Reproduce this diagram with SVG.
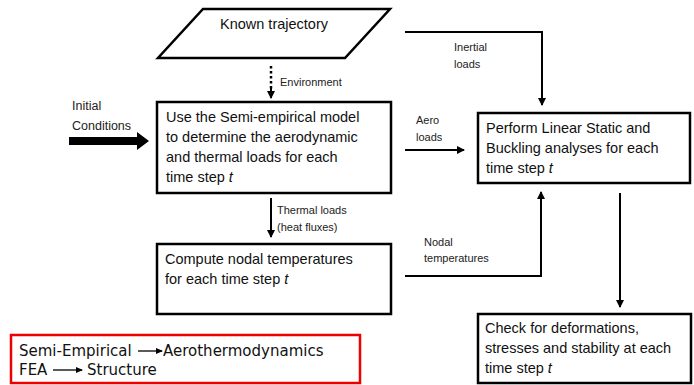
<svg xmlns="http://www.w3.org/2000/svg" width="694" height="385" viewBox="0 0 694 385">
<defs>
<style>
.box{fill:#fff;stroke:#000;stroke-width:2.5}
.t{font-family:"Liberation Sans",Arial,sans-serif;font-size:14.5px;fill:#111}
.s{font-family:"Liberation Sans",Arial,sans-serif;font-size:11px;fill:#222}
.leg{font-family:"DejaVu Sans",sans-serif;font-size:15px;fill:#111}
.c{fill:none;stroke:#000;stroke-width:2}
</style>
<marker id="ah" markerWidth="8" markerHeight="8" refX="7" refY="4" orient="auto" markerUnits="userSpaceOnUse">
<path d="M0,0 L8,4 L0,8 Z" fill="#000"/>
</marker>
<marker id="ah2" markerWidth="7" markerHeight="6" refX="6" refY="3" orient="auto" markerUnits="userSpaceOnUse">
<path d="M0,0 L7,3 L0,6 Z" fill="#000"/>
</marker>
</defs>
<rect width="694" height="385" fill="#fff"/>

<g id="connectors">
<path d="M271,66 L271,90" fill="none" stroke="#000" stroke-width="2.5" stroke-dasharray="2.5,2.5"/>
<path d="M271,88 L271,98" class="c" marker-end="url(#ah)"/>
<text class="s" x="280" y="86">Environment</text>
<rect x="69" y="137" width="69" height="8" fill="#000"/>
<path d="M137,132 L149,141 L137,150 Z" fill="#000"/>
<text class="s" x="72" y="110" style="font-size:12.5px">Initial</text>
<text class="s" x="72" y="130" style="font-size:12.5px">Conditions</text>
<path d="M405,32 L542,32 L542,105" class="c" marker-end="url(#ah)"/>
<text class="s" x="454" y="51">Inertial</text>
<text class="s" x="454" y="68">loads</text>
<path d="M405,150 L464,150" class="c" marker-end="url(#ah)"/>
<text class="s" x="416" y="124">Aero</text>
<text class="s" x="416" y="141">loads</text>
<path d="M271,198 L271,237" class="c" marker-end="url(#ah)"/>
<text class="s" x="277" y="214">Thermal loads</text>
<text class="s" x="277" y="231">(heat fluxes)</text>
<path d="M405,276 L541,276 L541,192" class="c" marker-end="url(#ah)"/>
<text class="s" x="424" y="246">Nodal</text>
<text class="s" x="424" y="262">temperatures</text>
<path d="M620,193 L620,307" class="c" marker-end="url(#ah)"/>
</g>

<g id="known-trajectory">
<polygon class="box" points="203,9 390,9 345,58 158,58"/>
<text class="t" x="274" y="29" text-anchor="middle">Known trajectory</text>
</g>

<g id="semi-empirical">
<rect class="box" x="157" y="102" width="234" height="91"/>
<text class="t" x="166" y="122">Use the Semi-empirical model</text>
<text class="t" x="166" y="142">to determine the aerodynamic</text>
<text class="t" x="166" y="162">and thermal loads for each</text>
<text class="t" x="166" y="182">time step <tspan font-style="italic">t</tspan></text>
</g>

<g id="compute-temps">
<rect class="box" x="157" y="244" width="234" height="70"/>
<text class="t" x="165" y="264">Compute nodal temperatures</text>
<text class="t" x="165" y="284">for each time step <tspan font-style="italic">t</tspan></text>
</g>

<g id="linear-static">
<rect class="box" x="478" y="113" width="212" height="70"/>
<text class="t" x="486" y="133">Perform Linear Static and</text>
<text class="t" x="486" y="153">Buckling analyses for each</text>
<text class="t" x="486" y="173">time step <tspan font-style="italic">t</tspan></text>
</g>

<g id="check">
<rect class="box" x="478" y="314" width="213" height="69"/>
<text class="t" x="485" y="333">Check for deformations,</text>
<text class="t" x="485" y="353">stresses and stability at each</text>
<text class="t" x="485" y="373">time step <tspan font-style="italic">t</tspan></text>
</g>

<g id="legend">
<rect x="11" y="335" width="349" height="48" fill="#fff" stroke="#e00" stroke-width="2.5"/>
<text class="leg" x="19" y="356">Semi-Empirical</text>
<path d="M138,351 L162,351" fill="none" stroke="#000" stroke-width="1.3" marker-end="url(#ah2)"/>
<text class="leg" x="163" y="356">Aerothermodynamics</text>
<text class="leg" x="19" y="375">FEA</text>
<path d="M53,370 L82,370" fill="none" stroke="#000" stroke-width="1.3" marker-end="url(#ah2)"/>
<text class="leg" x="87" y="375">Structure</text>
</g>
</svg>
